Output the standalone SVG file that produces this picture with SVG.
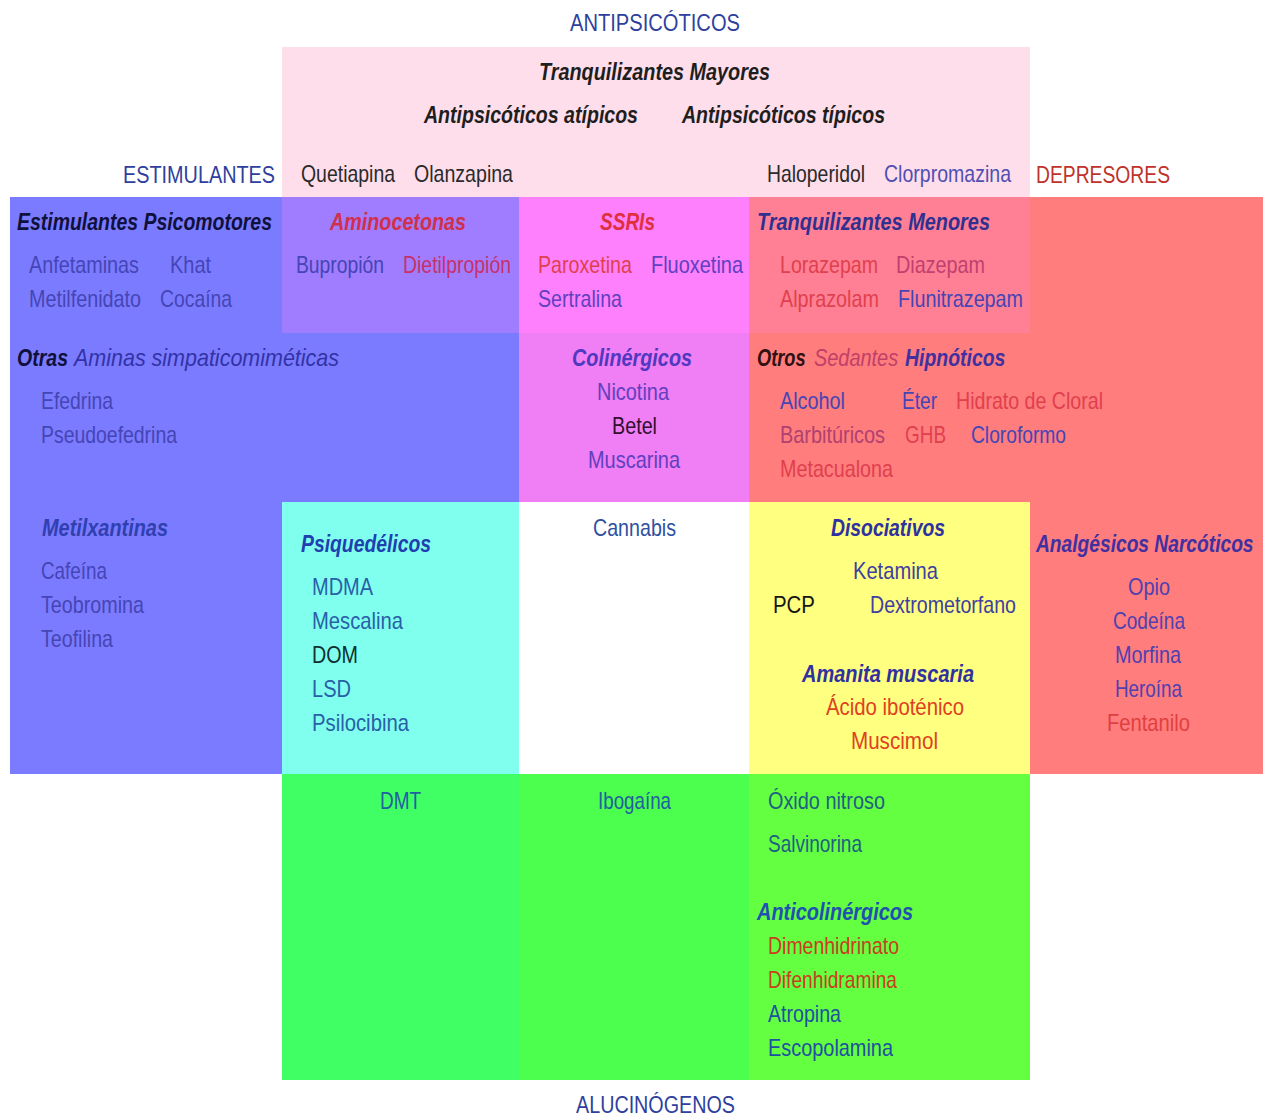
<svg xmlns="http://www.w3.org/2000/svg" width="1263" height="1116" viewBox="0 0 1263 1116">
<style>
text{font-family:"Liberation Sans Narrow","Liberation Sans",Arial,sans-serif;font-size:24px;}
.h{font-weight:bold;font-style:italic;}
.i{font-style:italic;}
.cat{font-family:"Liberation Sans",Arial,sans-serif;font-size:23px;}
.b{fill:#4545b5;}
.r{fill:#e0404e;}
.k{fill:#2a2a2a;}
</style>
<rect width="1263" height="1116" fill="#ffffff"/>

<g id="titles">
<text class="cat" x="570" y="31" textLength="170" lengthAdjust="spacingAndGlyphs" fill="#2e3f9e">ANTIPSICÓTICOS</text>
<text class="cat" x="123" y="183" textLength="152" lengthAdjust="spacingAndGlyphs" fill="#2e3f9e">ESTIMULANTES</text>
<text class="cat" x="1036" y="183" textLength="134" lengthAdjust="spacingAndGlyphs" fill="#c0322a">DEPRESORES</text>
<text class="cat" x="576" y="1113" textLength="159" lengthAdjust="spacingAndGlyphs" fill="#2e3f9e">ALUCINÓGENOS</text>
</g>

<g id="antipsicoticos">
<rect x="282" y="47" width="748" height="150" fill="#ffdeeb"/>
<text class="h" x="539" y="80" textLength="231" lengthAdjust="spacingAndGlyphs" fill="#1e1e1e">Tranquilizantes Mayores</text>
<text class="h" x="424" y="123" textLength="214" lengthAdjust="spacingAndGlyphs" fill="#1e1e1e">Antipsicóticos atípicos</text>
<text class="h" x="682" y="123" textLength="203" lengthAdjust="spacingAndGlyphs" fill="#1e1e1e">Antipsicóticos típicos</text>
<text class="k" x="301" y="182" textLength="94" lengthAdjust="spacingAndGlyphs">Quetiapina</text>
<text class="k" x="414" y="182" textLength="99" lengthAdjust="spacingAndGlyphs">Olanzapina</text>
<text class="k" x="767" y="182" textLength="98" lengthAdjust="spacingAndGlyphs">Haloperidol</text>
<text x="884" y="182" textLength="127" lengthAdjust="spacingAndGlyphs" fill="#4f50b2">Clorpromazina</text>
</g>

<g id="estimulantes">
<rect x="10" y="197" width="272" height="577" fill="#7b7bff"/>
<rect x="282" y="333" width="237" height="169" fill="#7b7bff"/>
<text class="h" x="17" y="230" textLength="255" lengthAdjust="spacingAndGlyphs" fill="#10103c">Estimulantes Psicomotores</text>
<text class="b" x="29" y="273" textLength="110" lengthAdjust="spacingAndGlyphs">Anfetaminas</text>
<text class="b" x="170" y="273" textLength="41" lengthAdjust="spacingAndGlyphs">Khat</text>
<text class="b" x="29" y="307" textLength="112" lengthAdjust="spacingAndGlyphs">Metilfenidato</text>
<text class="b" x="160" y="307" textLength="72" lengthAdjust="spacingAndGlyphs">Cocaína</text>
</g>

<g id="aminas">
<text class="h" x="17" y="366" textLength="51" lengthAdjust="spacingAndGlyphs" fill="#10103c">Otras</text>
<text class="i" x="74" y="366" textLength="265" lengthAdjust="spacingAndGlyphs" fill="#3232a6">Aminas simpaticomiméticas</text>
<text class="b" x="41" y="409" textLength="72" lengthAdjust="spacingAndGlyphs">Efedrina</text>
<text class="b" x="41" y="443" textLength="136" lengthAdjust="spacingAndGlyphs">Pseudoefedrina</text>
</g>

<g id="metilxantinas">
<text class="h" x="42" y="536" textLength="126" lengthAdjust="spacingAndGlyphs" fill="#3040b0">Metilxantinas</text>
<text class="b" x="41" y="579" textLength="66" lengthAdjust="spacingAndGlyphs">Cafeína</text>
<text class="b" x="41" y="613" textLength="103" lengthAdjust="spacingAndGlyphs">Teobromina</text>
<text class="b" x="41" y="647" textLength="72" lengthAdjust="spacingAndGlyphs">Teofilina</text>
</g>

<g id="aminocetonas">
<rect x="282" y="197" width="237" height="136" fill="#a07cff"/>
<text class="h" x="330" y="230" textLength="136" lengthAdjust="spacingAndGlyphs" fill="#d0304a">Aminocetonas</text>
<text class="b" x="296" y="273" textLength="88" lengthAdjust="spacingAndGlyphs">Bupropión</text>
<text x="403" y="273" textLength="108" lengthAdjust="spacingAndGlyphs" fill="#c8306a">Dietilpropión</text>
</g>

<g id="ssris">
<rect x="519" y="197" width="230" height="136" fill="#ff80fd"/>
<text class="h" x="600" y="230" textLength="55" lengthAdjust="spacingAndGlyphs" fill="#e03040">SSRIs</text>
<text class="r" x="538" y="273" textLength="94" lengthAdjust="spacingAndGlyphs">Paroxetina</text>
<text x="651" y="273" textLength="92" lengthAdjust="spacingAndGlyphs" fill="#6040c0">Fluoxetina</text>
<text x="538" y="307" textLength="84" lengthAdjust="spacingAndGlyphs" fill="#6040c0">Sertralina</text>
</g>

<g id="colinergicos">
<rect x="519" y="333" width="230" height="169" fill="#f07ef4"/>
<text class="h" x="572" y="366" textLength="120" lengthAdjust="spacingAndGlyphs" fill="#5038c0">Colinérgicos</text>
<text x="597" y="400" textLength="72" lengthAdjust="spacingAndGlyphs" fill="#6040c0">Nicotina</text>
<text x="612" y="434" textLength="45" lengthAdjust="spacingAndGlyphs" fill="#301030">Betel</text>
<text x="588" y="468" textLength="92" lengthAdjust="spacingAndGlyphs" fill="#6040c0">Muscarina</text>
</g>

<g id="depresores">
<rect x="749" y="197" width="514" height="305" fill="#ff7d7d"/>
<rect x="1030" y="502" width="233" height="272" fill="#ff7d7d"/>
</g>

<g id="tranquilizantes-menores">
<rect x="749" y="197" width="281" height="136" fill="#ff8094"/>
<text class="h" x="757" y="230" textLength="233" lengthAdjust="spacingAndGlyphs" fill="#303090">Tranquilizantes Menores</text>
<text class="r" x="780" y="273" textLength="98" lengthAdjust="spacingAndGlyphs">Lorazepam</text>
<text x="896" y="273" textLength="89" lengthAdjust="spacingAndGlyphs" fill="#c04070">Diazepam</text>
<text class="r" x="780" y="307" textLength="99" lengthAdjust="spacingAndGlyphs">Alprazolam</text>
<text class="b" x="898" y="307" textLength="125" lengthAdjust="spacingAndGlyphs">Flunitrazepam</text>
</g>

<g id="sedantes">
<text class="h" transform="translate(757,366) scale(0.76,1)" fill="#301010">Otros</text>
<text class="i" transform="translate(814,366) scale(0.83,1)" fill="#c04068">Sedantes</text>
<text class="h" transform="translate(905,366) scale(0.81,1)" fill="#4030a0">Hipnóticos</text>
<text class="b" x="780" y="409" textLength="65" lengthAdjust="spacingAndGlyphs">Alcohol</text>
<text class="b" x="902" y="409" textLength="35" lengthAdjust="spacingAndGlyphs">Éter</text>
<text class="r" x="956" y="409" textLength="147" lengthAdjust="spacingAndGlyphs">Hidrato de Cloral</text>
<text x="780" y="443" textLength="105" lengthAdjust="spacingAndGlyphs" fill="#b04070">Barbitúricos</text>
<text class="r" x="905" y="443" textLength="41" lengthAdjust="spacingAndGlyphs">GHB</text>
<text class="b" x="971" y="443" textLength="95" lengthAdjust="spacingAndGlyphs">Cloroformo</text>
<text class="r" x="780" y="477" textLength="113" lengthAdjust="spacingAndGlyphs">Metacualona</text>
</g>

<g id="psiquedelicos">
<rect x="282" y="502" width="237" height="272" fill="#80ffee"/>
<text class="h" x="301" y="552" textLength="130" lengthAdjust="spacingAndGlyphs" fill="#2040b0">Psiquedélicos</text>
<text x="312" y="595" textLength="61" lengthAdjust="spacingAndGlyphs" fill="#2860a8">MDMA</text>
<text x="312" y="629" textLength="91" lengthAdjust="spacingAndGlyphs" fill="#2860a8">Mescalina</text>
<text x="312" y="663" textLength="46" lengthAdjust="spacingAndGlyphs" fill="#103030">DOM</text>
<text x="312" y="697" textLength="39" lengthAdjust="spacingAndGlyphs" fill="#2860a8">LSD</text>
<text x="312" y="731" textLength="97" lengthAdjust="spacingAndGlyphs" fill="#2860a8">Psilocibina</text>
</g>

<g id="cannabis">
<rect x="519" y="502" width="230" height="272" fill="#ffffff"/>
<text x="593" y="536" textLength="83" lengthAdjust="spacingAndGlyphs" fill="#3050a0">Cannabis</text>
</g>

<g id="disociativos">
<rect x="749" y="502" width="281" height="272" fill="#ffff80"/>
<text class="h" x="831" y="536" textLength="114" lengthAdjust="spacingAndGlyphs" fill="#3030a0">Disociativos</text>
<text x="853" y="579" textLength="85" lengthAdjust="spacingAndGlyphs" fill="#4040a0">Ketamina</text>
<text x="773" y="613" textLength="42" lengthAdjust="spacingAndGlyphs" fill="#151515">PCP</text>
<text x="870" y="613" textLength="146" lengthAdjust="spacingAndGlyphs" fill="#4040a0">Dextrometorfano</text>
<text class="h" x="802" y="682" textLength="172" lengthAdjust="spacingAndGlyphs" fill="#3030a0">Amanita muscaria</text>
<text x="826" y="715" textLength="138" lengthAdjust="spacingAndGlyphs" fill="#e04020">Ácido iboténico</text>
<text x="851" y="749" textLength="87" lengthAdjust="spacingAndGlyphs" fill="#e04020">Muscimol</text>
</g>

<g id="narcoticos">
<text class="h" transform="translate(1036,552) scale(0.8,1)" fill="#4030a0">Analgésicos Narcóticos</text>
<text x="1128" y="595" textLength="42" lengthAdjust="spacingAndGlyphs" fill="#5040b0">Opio</text>
<text x="1113" y="629" textLength="72" lengthAdjust="spacingAndGlyphs" fill="#5040b0">Codeína</text>
<text x="1115" y="663" textLength="66" lengthAdjust="spacingAndGlyphs" fill="#5040b0">Morfina</text>
<text x="1115" y="697" textLength="67" lengthAdjust="spacingAndGlyphs" fill="#5040b0">Heroína</text>
<text x="1107" y="731" textLength="83" lengthAdjust="spacingAndGlyphs" fill="#e04040">Fentanilo</text>
</g>

<g id="alucinogenos">
<rect x="282" y="774" width="237" height="306" fill="#40ff64"/>
<rect x="519" y="774" width="230" height="306" fill="#4cff4e"/>
<rect x="749" y="774" width="281" height="306" fill="#64ff40"/>
<text x="380" y="809" textLength="41" lengthAdjust="spacingAndGlyphs" fill="#2060a0">DMT</text>
<text x="598" y="809" textLength="73" lengthAdjust="spacingAndGlyphs" fill="#2060a0">Ibogaína</text>
<text x="768" y="809" textLength="117" lengthAdjust="spacingAndGlyphs" fill="#206080">Óxido nitroso</text>
<text x="768" y="852" textLength="94" lengthAdjust="spacingAndGlyphs" fill="#206080">Salvinorina</text>
<text class="h" x="757" y="920" textLength="156" lengthAdjust="spacingAndGlyphs" fill="#2050b0">Anticolinérgicos</text>
<text x="768" y="954" textLength="131" lengthAdjust="spacingAndGlyphs" fill="#c84020">Dimenhidrinato</text>
<text x="768" y="988" textLength="129" lengthAdjust="spacingAndGlyphs" fill="#c84020">Difenhidramina</text>
<text x="768" y="1022" textLength="73" lengthAdjust="spacingAndGlyphs" fill="#2050a0">Atropina</text>
<text x="768" y="1056" textLength="125" lengthAdjust="spacingAndGlyphs" fill="#2050a0">Escopolamina</text>
</g>

<g id="connectors"></g>
</svg>
